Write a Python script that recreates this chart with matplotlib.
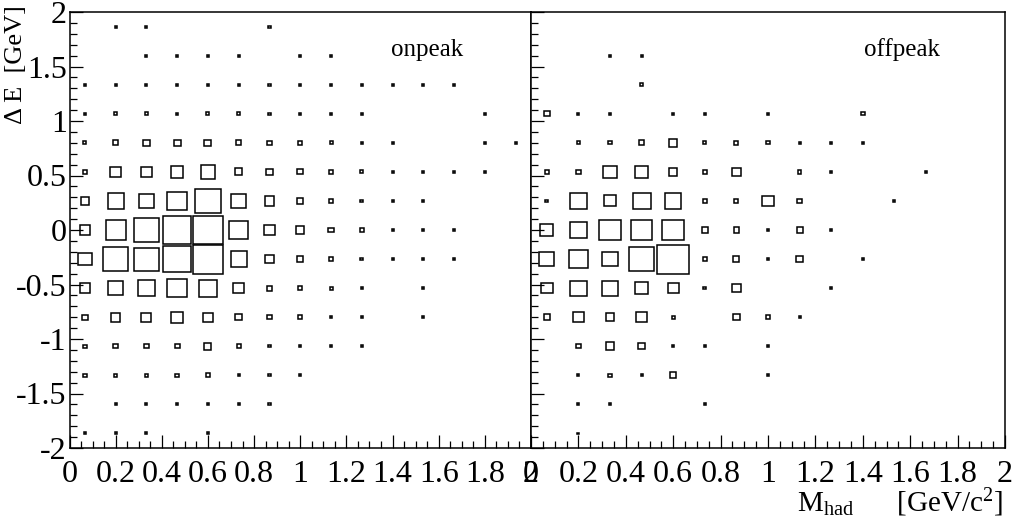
import matplotlib
matplotlib.use("Agg")
import matplotlib.pyplot as plt
import numpy as np
from matplotlib.patches import Rectangle
from matplotlib.ticker import FixedLocator, MultipleLocator

plt.rcParams["font.family"] = "Liberation Serif"
plt.rcParams["mathtext.fontset"] = "custom"
plt.rcParams["mathtext.rm"] = "Liberation Serif"
plt.rcParams["mathtext.it"] = "Liberation Serif:italic"

# 15 x 15 cells in M_had [GeV/c^2] and Delta E [GeV]
mhad_edges = np.linspace(0., 2., 16)
de_edges = np.linspace(-2., 2., 16)

x_ticks = [0., 0.2, 0.4, 0.6, 0.8, 1.0, 1.2, 1.4, 1.6, 1.8, 2.0]
x_ticklabels = ["0", "0.2", "0.4", "0.6", "0.8", "1", "1.2", "1.4", "1.6",
                "1.8", "2"]
y_ticks = [-2., -1.5, -1., -0.5, 0., 0.5, 1., 1.5, 2.]
y_ticklabels = ["-2", "-1.5", "-1", "-0.5", "0", "0.5", "1", "1.5", "2"]

# Entries per cell; first row is the highest Delta E bin, columns go in M_had.
onpeak = [
    [0, 1, 1, 0, 0, 0, 1, 0, 0, 0, 0, 0, 0, 0, 0],
    [0, 0, 1, 1, 1, 1, 0, 1, 1, 0, 0, 0, 0, 0, 0],
    [1, 1, 1, 1, 1, 1, 1, 1, 1, 1, 1, 1, 1, 0, 0],
    [1, 2, 2, 1, 2, 2, 1, 1, 1, 1, 0, 0, 0, 1, 0],
    [2, 7, 9, 11, 11, 7, 4, 3, 2, 1, 1, 0, 0, 1, 1],
    [5, 25, 28, 36, 49, 13, 9, 7, 3, 2, 1, 1, 1, 1, 0],
    [13, 60, 55, 88, 150, 55, 22, 7, 3, 2, 1, 1, 0, 0, 0],
    [25, 93, 144, 186, 205, 81, 28, 15, 6, 3, 1, 1, 1, 0, 0],
    [40, 144, 136, 178, 215, 59, 19, 7, 3, 2, 1, 1, 1, 0, 0],
    [25, 54, 64, 87, 75, 25, 7, 3, 2, 1, 0, 1, 0, 0, 0],
    [7, 19, 22, 32, 19, 11, 5, 3, 1, 1, 0, 1, 0, 0, 0],
    [3, 5, 5, 5, 11, 4, 1, 1, 1, 1, 0, 0, 0, 0, 0],
    [3, 3, 3, 3, 4, 1, 1, 1, 0, 0, 0, 0, 0, 0, 0],
    [0, 1, 1, 1, 1, 1, 1, 0, 0, 0, 0, 0, 0, 0, 0],
    [1, 1, 1, 0, 1, 0, 0, 0, 0, 0, 0, 0, 0, 0, 0],
]

offpeak = [
    [0, 0, 0, 0, 0, 0, 0, 0, 0, 0, 0, 0, 0, 0, 0],
    [0, 0, 1, 1, 0, 0, 0, 0, 0, 0, 0, 0, 0, 0, 0],
    [0, 0, 0, 3, 0, 0, 0, 0, 0, 0, 0, 0, 0, 0, 0],
    [7, 1, 1, 0, 1, 1, 0, 1, 0, 0, 3, 0, 0, 0, 0],
    [0, 3, 3, 6, 16, 2, 4, 3, 1, 1, 1, 0, 0, 0, 0],
    [3, 6, 44, 44, 16, 3, 17, 0, 3, 1, 0, 0, 1, 0, 0],
    [2, 64, 34, 75, 64, 5, 4, 30, 5, 0, 0, 1, 0, 0, 0],
    [40, 70, 110, 110, 110, 7, 7, 2, 9, 1, 0, 0, 0, 0, 0],
    [54, 87, 54, 152, 236, 4, 9, 1, 10, 0, 1, 0, 0, 0, 0],
    [32, 64, 64, 38, 27, 2, 19, 0, 0, 1, 0, 0, 0, 0, 0],
    [10, 26, 18, 28, 2, 0, 10, 5, 1, 0, 0, 0, 0, 0, 0],
    [0, 5, 19, 11, 1, 1, 0, 1, 0, 0, 0, 0, 0, 0, 0],
    [0, 1, 3, 1, 10, 0, 0, 1, 0, 0, 0, 0, 0, 0, 0],
    [0, 1, 1, 0, 0, 1, 0, 0, 0, 0, 0, 0, 0, 0, 0],
    [0, 1, 0, 0, 0, 0, 0, 0, 0, 0, 0, 0, 0, 0, 0],
]


def draw_boxes(ax, counts):
    """Box plot: box area proportional to cell content."""
    counts = np.array(counts, dtype=float)[::-1]
    nmax = counts.max()
    dx = mhad_edges[1] - mhad_edges[0]
    dy = de_edges[1] - de_edges[0]
    xc = 0.5 * (mhad_edges[:-1] + mhad_edges[1:])
    yc = 0.5 * (de_edges[:-1] + de_edges[1:])
    for j, y in enumerate(yc):
        for i, x in enumerate(xc):
            n = counts[j, i]
            if n <= 0:
                continue
            r = np.sqrt(n / nmax)
            ax.add_patch(Rectangle((x - 0.5 * dx * r, y - 0.5 * dy * r),
                                   dx * r, dy * r, fill=False,
                                   edgecolor="black", linewidth=1.1))


def style_axes(ax, ylabels=True):
    ax.set_xlim(0., 2.)
    ax.set_ylim(-2., 2.)
    ax.xaxis.set_major_locator(FixedLocator(x_ticks))
    ax.xaxis.set_minor_locator(MultipleLocator(0.05))
    ax.yaxis.set_major_locator(FixedLocator(y_ticks))
    ax.yaxis.set_minor_locator(MultipleLocator(0.1))
    ax.set_xticklabels(x_ticklabels)
    if ylabels:
        ax.set_yticklabels(y_ticklabels)
    else:
        ax.set_yticklabels([])
    ax.tick_params(which="both", direction="in", top=False, right=False,
                   width=0.9, labelsize=23)
    ax.tick_params(which="major", length=9.5)
    ax.tick_params(which="minor", length=5)
    ax.tick_params(axis="x", pad=8.5)
    ax.tick_params(axis="y", pad=2)
    for spine in ax.spines.values():
        spine.set_linewidth(1.1)


fig = plt.figure(figsize=(10.16, 5.19), dpi=100)
W, H = 1016., 519.
ax1 = fig.add_axes([69.5 / W, (H - 448.) / H, (531. - 69.5) / W, 436. / H])
ax2 = fig.add_axes([531. / W, (H - 448.) / H, (1005. - 531.) / W, 436. / H])

draw_boxes(ax1, onpeak)
draw_boxes(ax2, offpeak)
style_axes(ax1)
style_axes(ax2, ylabels=False)

ax1.text(0.697, 0.898, "onpeak", transform=ax1.transAxes, fontsize=18,
         ha="left", va="baseline")
ax2.text(0.703, 0.898, "offpeak", transform=ax2.transAxes, fontsize=18,
         ha="left", va="baseline")

fig.text(16. / W, 1. - 5. / H, "\u0394 E  [GeV]", rotation=90, fontsize=19,
         ha="center", va="top")
fig.text(1003. / W, (H - 512.) / H,
         r"M$_{\mathrm{had}}$      [GeV/c$^{2}$]",
         fontsize=21, ha="right", va="baseline")

fig.savefig("out.png", dpi=100)
